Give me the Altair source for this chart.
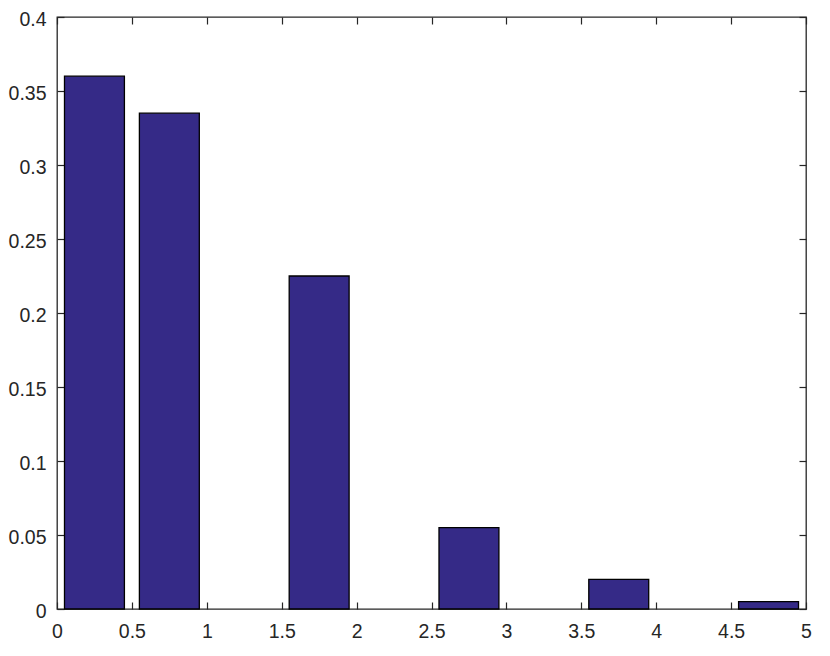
import altair as alt
import pandas as pd

# Data (bar centres and heights)
centers = [0.25, 0.75, 1.75, 2.75, 3.75, 4.75]
heights = [0.36, 0.335, 0.225, 0.055, 0.02, 0.005]
x_ticks = [0, 0.5, 1, 1.5, 2, 2.5, 3, 3.5, 4, 4.5, 5]
y_ticks = [0, 0.05, 0.1, 0.15, 0.2, 0.25, 0.3, 0.35, 0.4]

df = pd.DataFrame({"center": centers, "value": heights})

FONT = "Liberation Sans"
AX = "#262626"
FS = 19.5

xs = alt.Scale(domain=[0, 5], nice=False, zero=False)
ys = alt.Scale(domain=[0, 0.4], nice=False)

def axis(orient, values, labels, pad, loff=0):
    return alt.Axis(
        orient=orient, values=values, labels=labels, labelPadding=pad,
        domain=False, grid=False, ticks=True, tickSize=7, tickWidth=1.2,
        tickColor=AX, offset=-7, labelFont=FONT, labelFontSize=FS,
        labelColor=AX, labelFlush=False, labelOverlap=False, title=None,
        format="~g", labelOffset=loff,
    )

bars = alt.Chart(df).transform_calculate(
    x0="datum.center - 0.2", x1="datum.center + 0.2"
).mark_bar(color="#352a87", stroke="black", strokeWidth=1.3).encode(
    x=alt.X("x0:Q", scale=xs, axis=axis("bottom", x_ticks, True, 13)),
    x2="x1:Q",
    y=alt.Y("value:Q", scale=ys, axis=axis("left", y_ticks, True, 11, 2)),
    y2=alt.datum(0),
)

ticks = alt.Chart(df).mark_point(opacity=0).encode(
    x=alt.X("center:Q", scale=xs, axis=axis("top", x_ticks, False, 0)),
    y=alt.Y("value:Q", scale=ys, axis=axis("right", y_ticks, False, 0)),
)

chart = alt.layer(bars, ticks).resolve_axis(
    x="independent", y="independent"
).properties(
    width=749, height=592,
    autosize=alt.AutoSizeParams(type="none"),
    padding={"left": 49, "top": 9, "right": 16, "bottom": 39},
).configure_view(stroke=AX, strokeWidth=1.3)

chart.save("out.html", embed_options={"renderer": "svg", "actions": False})
